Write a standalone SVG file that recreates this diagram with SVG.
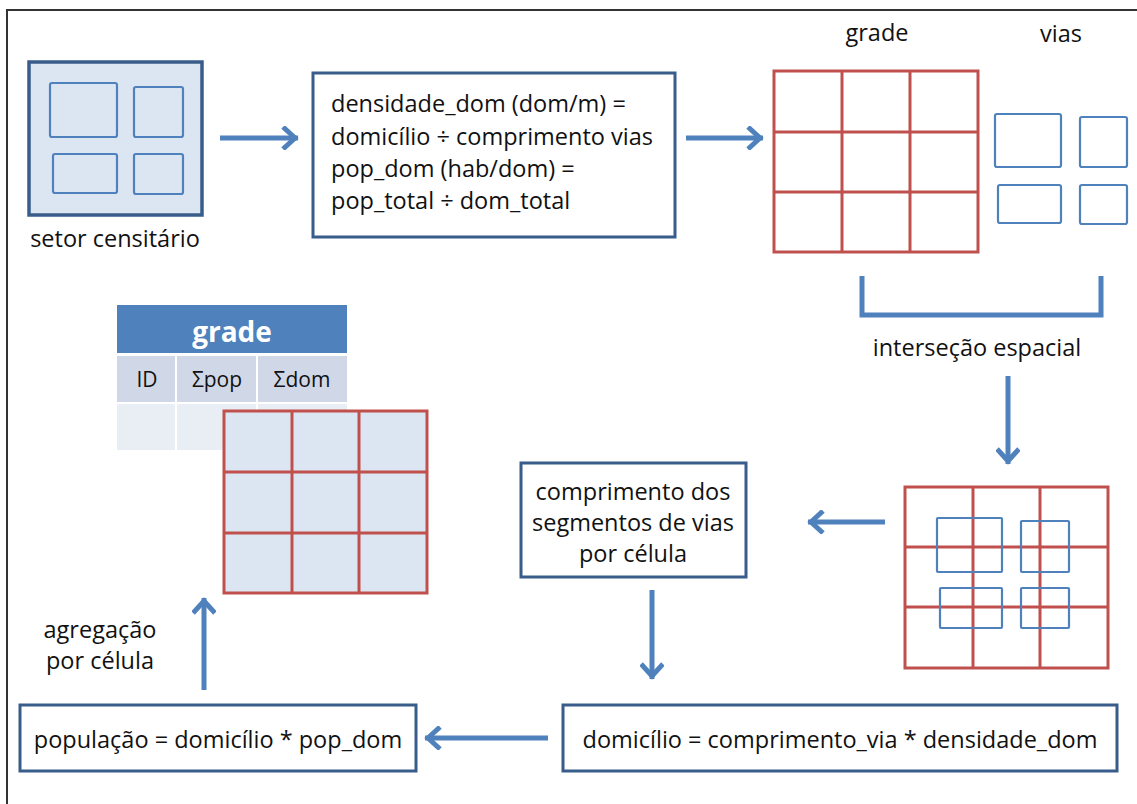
<svg xmlns="http://www.w3.org/2000/svg" width="1137" height="804" viewBox="0 0 1137 804">
<defs>
<style>
.t{font-family:"Open Sans","Liberation Sans",sans-serif;font-size:23.5px;fill:#111}
.m{text-anchor:middle}
.box{fill:#fff;stroke:#385d8a;stroke-width:3}
.grid{fill:none;stroke:#c0504d;stroke-width:3}
.via{fill:none;stroke:#4f81bd;stroke-width:2.2}
.arr{fill:none;stroke:#4f81bd;stroke-width:5}
</style>
<marker id="chev" viewBox="-20 -12 24 24" refX="0" refY="0" markerWidth="24" markerHeight="24" markerUnits="userSpaceOnUse" orient="auto">
<path d="M-15,-11 L-3,0 L-15,11" fill="none" stroke="#4f81bd" stroke-width="5" stroke-linejoin="miter"/>
</marker>
</defs>
<rect width="1137" height="804" fill="#fff"/>
<path d="M7,804 L7,10 L1137,10" fill="none" stroke="#333" stroke-width="2"/>

<g id="setor">
<rect x="29" y="62" width="173" height="153" fill="#dce6f2" stroke="#385d8a" stroke-width="3.5"/>
<rect class="via" x="50" y="83" width="67" height="54" rx="2"/>
<rect class="via" x="134" y="87" width="49" height="50" rx="2"/>
<rect class="via" x="53" y="154" width="64" height="39" rx="2"/>
<rect class="via" x="134" y="154" width="49" height="40" rx="2"/>
<text class="t m" x="115" y="247">setor censitário</text>
</g>

<g id="formula">
<rect class="box" x="313" y="73" width="362" height="164"/>
<text class="t" x="331" y="112">densidade_dom (dom/m) =</text>
<text class="t" x="331" y="145">domicílio ÷ comprimento vias</text>
<text class="t" x="331" y="177">pop_dom (hab/dom) =</text>
<text class="t" x="331" y="209">pop_total ÷ dom_total</text>
</g>

<g id="grade">
<text class="t m" x="877" y="41">grade</text>
<rect class="grid" x="774" y="71" width="204" height="181"/>
<path class="grid" d="M842,71 V252 M910,71 V252 M774,132 H978 M774,192 H978"/>
</g>

<g id="vias">
<text class="t m" x="1061" y="42">vias</text>
<rect class="via" x="995" y="114" width="66" height="53" rx="2"/>
<rect class="via" x="1080" y="117" width="47" height="50" rx="2"/>
<rect class="via" x="998" y="185" width="63" height="38" rx="2"/>
<rect class="via" x="1080" y="185" width="47" height="39" rx="2"/>
</g>

<g id="intersecao">
<path d="M862,276 V315 H1101 V276" fill="none" stroke="#4f81bd" stroke-width="5"/>
<text class="t m" x="977" y="356">interseção espacial</text>
</g>

<g id="grade-vias">
<rect class="grid" x="905" y="487" width="203" height="181"/>
<path class="grid" d="M973,487 V668 M1040,487 V668 M905,547 H1108 M905,607 H1108"/>
<rect class="via" x="937" y="518" width="65" height="54" rx="1"/>
<rect class="via" x="1021" y="521" width="48" height="51" rx="1"/>
<rect class="via" x="940" y="588" width="62" height="40" rx="1"/>
<rect class="via" x="1021" y="588" width="48" height="40" rx="1"/>
</g>

<g id="comprimento">
<rect class="box" x="521" y="463" width="225" height="114"/>
<text class="t m" x="633" y="500">comprimento dos</text>
<text class="t m" x="633" y="531">segmentos de vias</text>
<text class="t m" x="633" y="562">por célula</text>
</g>

<g id="domicilio">
<rect class="box" x="563" y="705" width="554" height="66"/>
<text class="t m" x="840" y="748">domicílio = comprimento_via * densidade_dom</text>
</g>

<g id="populacao">
<rect class="box" x="20" y="705" width="396" height="66"/>
<text class="t m" x="218" y="748">população = domicílio * pop_dom</text>
</g>

<g id="agregacao">
<text class="t m" x="100" y="638">agregação</text>
<text class="t m" x="100" y="669">por célula</text>
</g>

<g id="tabela">
<rect x="117" y="305" width="230" height="48" fill="#4f81bd"/>
<text x="232" y="342" text-anchor="middle" font-family="'Open Sans','Liberation Sans',sans-serif" font-size="28" font-weight="bold" fill="#fff">grade</text>
<rect x="117" y="356" width="58" height="46" fill="#d0d8e8"/>
<rect x="177" y="356" width="79" height="46" fill="#d0d8e8"/>
<rect x="258" y="356" width="89" height="46" fill="#d0d8e8"/>
<rect x="117" y="404" width="58" height="46" fill="#e9edf4"/>
<rect x="177" y="404" width="79" height="46" fill="#e9edf4"/>
<rect x="258" y="404" width="89" height="46" fill="#e9edf4"/>
<text class="t m" x="147" y="387" style="font-size:21px">ID</text>
<text class="t m" x="217" y="387" style="font-size:21px">Σpop</text>
<text class="t m" x="302" y="387" style="font-size:21px">Σdom</text>
</g>

<g id="grade-final">
<rect x="224" y="411" width="203" height="182" fill="#dce6f2" stroke="#c0504d" stroke-width="3"/>
<path class="grid" d="M292,411 V593 M359,411 V593 M224,472 H427 M224,533 H427"/>
</g>

<g id="connectors">
<line class="arr" x1="220" y1="138" x2="298" y2="138" marker-end="url(#chev)"/>
<line class="arr" x1="686" y1="138" x2="763" y2="138" marker-end="url(#chev)"/>
<line class="arr" x1="1008" y1="376" x2="1008" y2="464" marker-end="url(#chev)"/>
<line class="arr" x1="885" y1="522" x2="808" y2="522" marker-end="url(#chev)"/>
<line class="arr" x1="652" y1="590" x2="652" y2="679" marker-end="url(#chev)"/>
<line class="arr" x1="548" y1="738" x2="425" y2="738" marker-end="url(#chev)"/>
<line class="arr" x1="204" y1="690" x2="204" y2="598" marker-end="url(#chev)"/>
</g>
</svg>
